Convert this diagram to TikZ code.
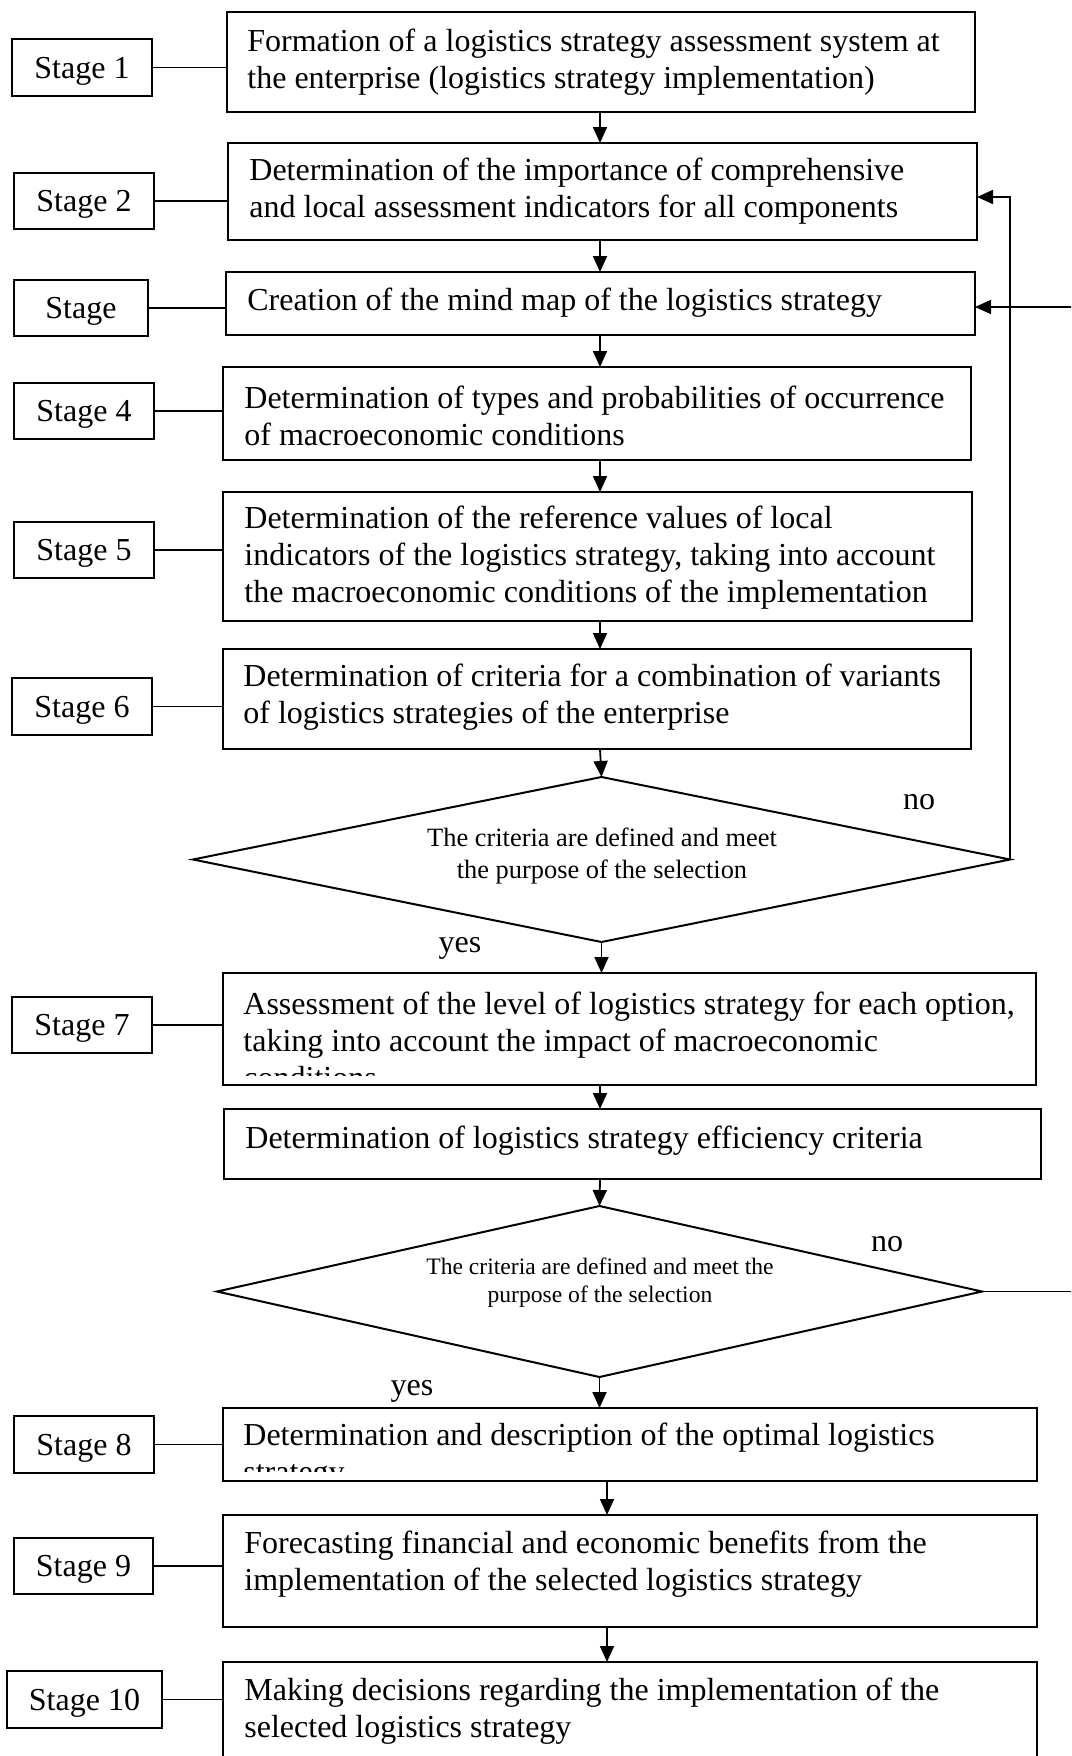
\documentclass[tikz,border=0pt]{standalone}
\usepackage{fontspec}
\setmainfont{Liberation Serif}
\usetikzlibrary{arrows.meta,fit,shapes.geometric}

\begin{document}
\begin{tikzpicture}[x=0.5pt,y=-0.5pt,
  frame/.style={draw, line width=1pt, inner sep=0pt, outer sep=0pt},
  stagebox/.style={frame, minimum height=28.25pt, text depth=0pt, font=\fontsize{16}{18.5}\selectfont},
  mainbox/.style={frame},
  boxtext/.style={anchor=west, align=left, inner sep=0pt, font=\fontsize{16}{18.5}\selectfont},
  decision/.style={diamond, draw, line width=1pt, inner sep=0pt, outer sep=0pt},
  answer/.style={inner sep=0pt, font=\fontsize{16}{18.5}\selectfont},
  arr/.style={line width=0.9pt, -{Triangle[length=8pt,width=7pt]}},
  link/.style={line width=0.9pt}]

\useasboundingbox (0,0) rectangle (1071,1756);
\clip (0,0) rectangle (1071,1756);

% vertical axes of the main flow
\coordinate (ax) at (600,0);
\coordinate (bx) at (607,0);

% ---------- main boxes ----------
\node[mainbox, fit={(227,12) (975,112)}] (b1) {};
\node[mainbox, fit={(228,143) (977,240)}] (b2) {};
\node[mainbox, fit={(226,272) (975,335)}] (b3) {};
\node[mainbox, fit={(223,367) (971,460)}] (b4) {};
\node[mainbox, fit={(223,492) (972,621)}] (b5) {};
\node[mainbox, fit={(223,649) (971,749)}] (b6) {};
\node[mainbox, fit={(223,973) (1036,1085)}] (b7) {};
\node[mainbox, fit={(224,1109) (1041,1179)}] (be) {};
\node[mainbox, fit={(223,1408) (1037,1481)}] (b8) {};
\node[mainbox, fit={(223,1515) (1037,1627)}] (b9) {};
\node[mainbox, fit={(223,1662) (1037,1820)}] (b10) {};

% ---------- box texts ----------
\node[boxtext] (t1) at (247,62) {Formation of a logistics strategy assessment system at\\the enterprise (logistics strategy implementation)};
\node[boxtext] (t2) at (249,191.5) {Determination of the importance of comprehensive\\and local assessment indicators for all components};
\node[boxtext] (t3) at (247,303) {Creation of the mind map of the logistics strategy};
\node[boxtext] (t4) at (244,416) {Determination of types and probabilities of occurrence\\of macroeconomic conditions};
\node[boxtext] (t5) at (244,558) {Determination of the reference values of local\\indicators of the logistics strategy, taking into account\\the macroeconomic conditions of the implementation};
\node[boxtext] (t6) at (243,697.5) {Determination of criteria for a combination of variants\\of logistics strategies of the enterprise};
\begin{scope}
  \clip (223,973) rectangle (1036,1075);
  \node[boxtext] (t7) at (243,1040) {Assessment of the level of logistics strategy for each option,\\taking into account the impact of macroeconomic\\conditions};
\end{scope}
\node[boxtext] (te) at (245,1141) {Determination of logistics strategy efficiency criteria};
\begin{scope}
  \clip (223,1408) rectangle (1037,1471);
  \node[boxtext] (t8) at (243,1456.5) {Determination and description of the optimal logistics\\strategy};
\end{scope}
\node[boxtext] (t9) at (244,1564) {Forecasting financial and economic benefits from the\\implementation of the selected logistics strategy};
\node[boxtext] (t10) at (244,1711.5) {Making decisions regarding the implementation of the\\selected logistics strategy};

% ---------- stage labels ----------
\node[stagebox, minimum width=70pt]   (s1)  at (82,67.5)    {Stage 1};
\node[stagebox, minimum width=70pt]   (s2)  at (84,201)     {Stage 2};
\node[stagebox, minimum width=67pt]   (s3)  at (81,308)     {Stage};
\node[stagebox, minimum width=70pt]   (s4)  at (84,411)     {Stage 4};
\node[stagebox, minimum width=70pt]   (s5)  at (84,550)     {Stage 5};
\node[stagebox, minimum width=70pt]   (s6)  at (82,706.5)   {Stage 6};
\node[stagebox, minimum width=70pt]   (s7)  at (82,1025)    {Stage 7};
\node[stagebox, minimum width=70pt]   (s8)  at (84,1444.5)  {Stage 8};
\node[stagebox, minimum width=69.5pt] (s9)  at (83.5,1566)  {Stage 9};
\node[stagebox, minimum width=77.5pt] (s10) at (84.5,1699.5){Stage 10};

\foreach \s/\b in {s1/b1,s2/b2,s3/b3,s4/b4,s5/b5,s6/b6,s7/b7,s8/b8,s9/b9,s10/b10}
  \draw[link] (\s.east) -- (\s.east -| \b.west);

% ---------- decisions ----------
\node[decision, minimum width=408.5pt, minimum height=82.5pt] (d1) at (601.5,859.5) {};
\node[align=center, inner sep=0pt, font=\fontsize{13.2}{16}\selectfont] (dt1) at (602,856)
  {The criteria are defined and meet\\the purpose of the selection};
\node[decision, minimum width=382.5pt, minimum height=85.5pt] (d2) at (599.5,1291.5) {};
\node[align=center, inner sep=0pt, font=\fontsize{11.8}{14}\selectfont] (dt2) at (600,1283)
  {The criteria are defined and meet the\\purpose of the selection};

\node[answer] (no1) at (919,802) {no};
\node[answer] (yes1) at (460,948) {yes};
\node[answer] (no2) at (887,1244) {no};
\node[answer] (yes2) at (412,1391) {yes};

% ---------- flow arrows ----------
\draw[arr] (b1.south -| ax) -- (b2.north -| ax);
\draw[arr] (b2.south -| ax) -- (b3.north -| ax);
\draw[arr] (b3.south -| ax) -- (b4.north -| ax);
\draw[arr] (b4.south -| ax) -- (b5.north -| ax);
\draw[arr] (b5.south -| ax) -- (b6.north -| ax);
\draw[arr] (b6.south -| ax) -- (d1.north);
\draw[arr] (d1.south) -- (b7.north -| d1.south);
\draw[arr] (b7.south -| ax) -- (be.north -| ax);
\draw[arr] (be.south -| ax) -- (d2.north);
\draw[arr] (d2.south) -- (b8.north -| d2.south);
\draw[arr] (b8.south -| bx) -- (b9.north -| bx);
\draw[arr] (b9.south -| bx) -- (b10.north -| bx);

% ---------- feedback loops ----------
\draw[arr] (d1.east) |- ([yshift=-2.75pt]b2.east);
\draw[arr] (d2.east) -- ++(140,0) |- ([yshift=-1.75pt]b3.east);

\end{tikzpicture}
\end{document}
